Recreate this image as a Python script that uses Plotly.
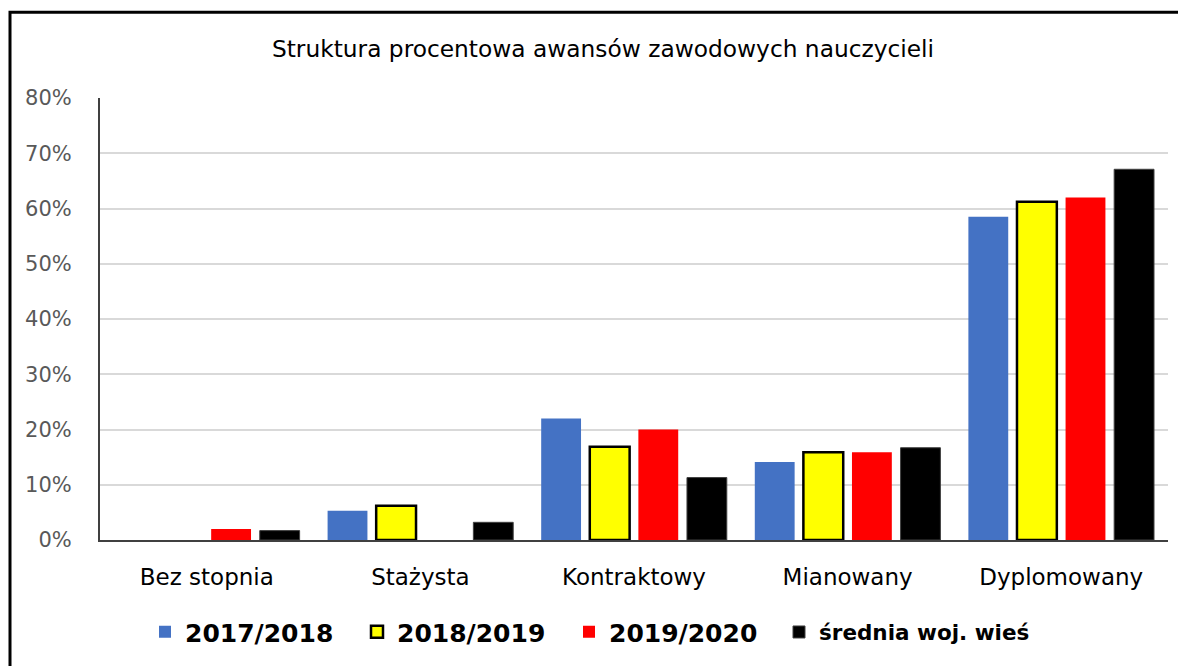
import plotly.graph_objects as go

categories = ["Bez stopnia", "Stażysta", "Kontraktowy", "Mianowany", "Dyplomowany"]
series_names = ["2017/2018", "2018/2019", "2019/2020", "średnia woj. wieś"]
v_2017 = [0.0, 5.3, 22.0, 14.1, 58.5]
v_2018 = [0.0, 6.2, 16.9, 15.9, 61.2]
v_2019 = [2.0, 0.0, 20.0, 15.9, 62.0]
v_avg = [1.7, 3.2, 11.3, 16.7, 67.1]
y_ticks = [0, 10, 20, 30, 40, 50, 60, 70, 80]
y_tick_labels = [f"{t}%" for t in y_ticks]

colors = ["#4472C4", "#FFFF00", "#FF0000", "#000000"]
outline_colors = ["#4472C4", "#000000", "#FF0000", "#404040"]
outline_widths = [0, 2.5, 0, 1]
legend_ids = ["legend", "legend", "legend", "legend2"]

FONT = "DejaVu Sans"
fig = go.Figure()
for name, vals, c, oc, ow, lg in zip(series_names, [v_2017, v_2018, v_2019, v_avg],
                                     colors, outline_colors, outline_widths, legend_ids):
    fig.add_trace(go.Bar(
        x=categories, y=[v if v > 0 else None for v in vals], name=name,
        marker=dict(color=c, line=dict(color=oc, width=ow)),
        legend=lg,
    ))

# page body has an 8px margin; positions below are in figure pixels
W, H = 1178, 658
L, R, T, B = 92, 18, 90, 125
pw, ph = W - L - R, H - T - B
leg_y = -(624 - (T + ph)) / ph

fig.update_layout(
    width=W, height=H,
    margin=dict(l=L, r=R, t=T, b=B),
    paper_bgcolor="white", plot_bgcolor="white",
    barmode="group", bargap=0.09, bargroupgap=0.18,
    title=dict(text="Struktura procentowa awansów zawodowych nauczycieli",
               x=595 / W, xanchor="center", y=1 - 41 / H, yanchor="middle",
               font=dict(family=FONT, size=23.3, color="#000000")),
    font=dict(family=FONT),
    showlegend=True,
    legend=dict(orientation="h", x=(137 - L) / pw, xanchor="left",
                y=leg_y, yanchor="middle",
                font=dict(family=FONT, size=25, color="#000000", weight="bold"),
                entrywidth=167, entrywidthmode="pixels",
                traceorder="normal"),
    legend2=dict(orientation="h", x=(771 - L) / pw, xanchor="left",
                 y=leg_y, yanchor="middle",
                 font=dict(family=FONT, size=21.5, color="#000000", weight="bold")),
    shapes=[dict(type="rect", xref="paper", yref="paper",
                 x0=(2 - L) / pw, x1=(W + 20 - L) / pw,
                 y0=-(H + 20 - (T + ph)) / ph, y1=(T + ph - 4) / ph,
                 line=dict(color="black", width=3), fillcolor="rgba(0,0,0,0)",
                 layer="above")],
)
fig.update_xaxes(showline=True, linecolor="#404040", linewidth=2,
                 tickfont=dict(family=FONT, size=23, color="#000000"),
                 ticks="", ticklabelstandoff=15)
fig.update_yaxes(range=[0, 80], tickvals=y_ticks, ticktext=y_tick_labels,
                 showline=True, linecolor="#404040", linewidth=2,
                 gridcolor="#D9D9D9", gridwidth=2, zeroline=False,
                 tickfont=dict(family=FONT, size=21, color="#595959"),
                 ticks="", ticklabelstandoff=22)

fig.write_html("out.html")
